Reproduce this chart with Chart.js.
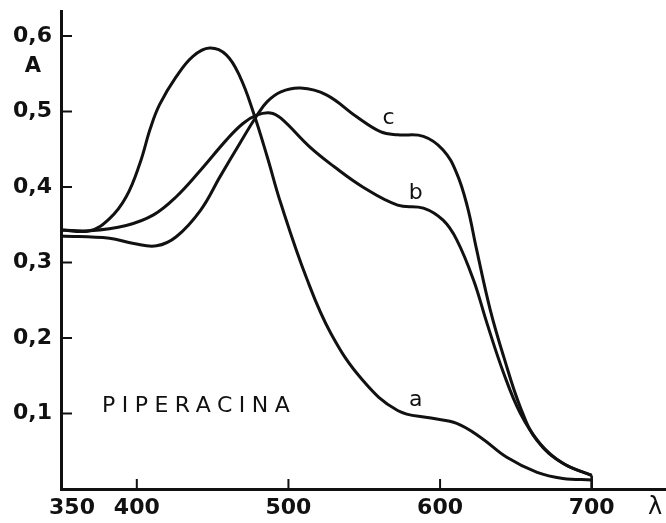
<!DOCTYPE html>
<html>
<head>
<meta charset="utf-8">
<script src="https://cdn.jsdelivr.net/npm/chart.js@4/dist/chart.umd.min.js"></script>
<style>
  html, body { margin: 0; padding: 0; background: #fff; }
  #wrap { width: 666px; height: 523px; }
</style>
</head>
<body>
<div id="wrap"><canvas id="spectrum" width="666" height="523"></canvas></div>
<script>
// ----- DATA -----
const xTicks = [350, 400, 500, 600, 700];
const yTicks = [0.1, 0.2, 0.3, 0.4, 0.5, 0.6];

// curve a
const aWave = [350, 369, 382, 393, 402, 409, 415, 426, 437, 448, 459, 468, 477, 486, 495, 512, 528, 549, 572, 594, 611, 627, 644, 664, 681, 700];
const aAbs  = [0.343, 0.342, 0.358, 0.387, 0.431, 0.478, 0.509, 0.546, 0.573, 0.584, 0.575, 0.546, 0.498, 0.440, 0.378, 0.279, 0.206, 0.144, 0.104, 0.094, 0.087, 0.068, 0.042, 0.022, 0.014, 0.012];

// curve b
const bWave = [350, 369, 393, 411, 426, 442, 459, 470, 479, 488, 495, 514, 530, 549, 572, 589, 602, 611, 622, 631, 642, 653, 666, 681, 700];
const bAbs  = [0.343, 0.342, 0.349, 0.363, 0.387, 0.422, 0.462, 0.484, 0.495, 0.498, 0.491, 0.453, 0.427, 0.400, 0.376, 0.372, 0.356, 0.330, 0.277, 0.219, 0.153, 0.100, 0.060, 0.034, 0.018];

// curve c
const cWave = [350, 382, 398, 413, 426, 442, 455, 468, 479, 486, 495, 508, 525, 545, 561, 572, 589, 602, 611, 618, 624, 633, 642, 653, 664, 681, 700];
const cAbs  = [0.335, 0.332, 0.325, 0.322, 0.334, 0.369, 0.414, 0.458, 0.494, 0.513, 0.526, 0.531, 0.522, 0.493, 0.473, 0.469, 0.467, 0.449, 0.418, 0.374, 0.318, 0.238, 0.175, 0.108, 0.064, 0.034, 0.018];

// closing stroke of the recording at 700 nm
const endWave = [700, 700];
const endAbs  = [0.018, 0];

const curveNames = ['a', 'b', 'c'];
const curveLabelAt = [[584, 0.117], [584, 0.392], [566, 0.491]];

const toPoints = (xs, ys) => xs.map((x, i) => ({ x: x, y: ys[i] }));

const INK = '#111';

// small inward tick marks + free text (drawn through the chart scales)
const decorPlugin = {
    id: 'decor',
    afterDatasetsDraw(chart) {
        const { ctx, chartArea, scales } = chart;
        const x = scales.x, y = scales.y;
        ctx.save();
        ctx.strokeStyle = INK;
        ctx.lineWidth = 2;
        ctx.beginPath();
        yTicks.forEach(v => {
            const py = y.getPixelForValue(v);
            ctx.moveTo(chartArea.left, py);
            ctx.lineTo(chartArea.left + 11, py);
        });
        xTicks.slice(1).forEach(v => {
            const px = x.getPixelForValue(v);
            ctx.moveTo(px, chartArea.bottom);
            ctx.lineTo(px, chartArea.bottom - 10);
        });
        ctx.stroke();

        ctx.fillStyle = INK;
        ctx.textAlign = 'center';
        ctx.textBaseline = 'middle';
        ctx.font = '22px "DejaVu Sans"';
        curveNames.forEach((n, i) => {
            ctx.fillText(n, x.getPixelForValue(curveLabelAt[i][0]), y.getPixelForValue(curveLabelAt[i][1]));
        });

        ctx.font = '22px "DejaVu Sans"';
        ctx.letterSpacing = '6.5px';
        ctx.textAlign = 'left';
        ctx.fillText('PIPERACINA', x.getPixelForValue(377), y.getPixelForValue(0.110));
        ctx.letterSpacing = '0px';

        ctx.font = 'bold 21px "DejaVu Sans"';
        ctx.textAlign = 'center';
        ctx.fillText('A', 33, y.getPixelForValue(0.56));
        ctx.font = '24px "DejaVu Sans"';
        ctx.fillText('λ', 655, chartArea.bottom + 19);
        ctx.restore();
    }
};

const lineStyle = {
    borderColor: INK,
    borderWidth: 3,
    pointRadius: 0,
    showLine: true,
    fill: false,
    tension: 0.4
};

new Chart(document.getElementById('spectrum').getContext('2d'), {
    type: 'scatter',
    data: {
        datasets: [
            Object.assign({ label: 'a', data: toPoints(aWave, aAbs) }, lineStyle),
            Object.assign({ label: 'b', data: toPoints(bWave, bAbs) }, lineStyle),
            Object.assign({ label: 'c', data: toPoints(cWave, cAbs) }, lineStyle),
            { label: 'end', data: toPoints(endWave, endAbs), borderColor: INK, borderWidth: 2.5, pointRadius: 0, showLine: true, tension: 0 }
        ]
    },
    options: {
        responsive: false,
        animation: false,
        layout: { padding: { top: 11, right: 0, left: 0, bottom: 0 } },
        plugins: { legend: { display: false }, tooltip: { enabled: false } },
        scales: {
            x: {
                type: 'linear',
                min: 350,
                max: 749,
                afterBuildTicks: s => { s.ticks = xTicks.map(v => ({ value: v })); },
                afterFit: s => { s.height = 34; s.paddingLeft = 0; s.paddingRight = 0; },
                grid: { display: false, drawTicks: false },
                border: { display: true, color: INK, width: 3 },
                ticks: {
                    color: INK,
                    padding: 6,
                    maxRotation: 0,
                    autoSkip: false,
                    font: { family: 'DejaVu Sans', weight: 'bold', size: 22 },
                    callback: v => v === 350 ? '\u2002\u2002350' : String(v)
                }
            },
            y: {
                type: 'linear',
                min: 0,
                max: 0.633,
                afterBuildTicks: s => { s.ticks = yTicks.map(v => ({ value: v })); },
                afterFit: s => { s.width = 61; s.paddingTop = 0; s.paddingBottom = 0; },
                grid: { display: false, drawTicks: false },
                border: { display: true, color: INK, width: 3 },
                ticks: {
                    color: INK,
                    padding: 9,
                    autoSkip: false,
                    font: { family: 'DejaVu Sans', weight: 'bold', size: 22 },
                    callback: v => v.toFixed(1).replace('.', ',')
                }
            }
        }
    },
    plugins: [decorPlugin]
});
</script>
</body>
</html>
